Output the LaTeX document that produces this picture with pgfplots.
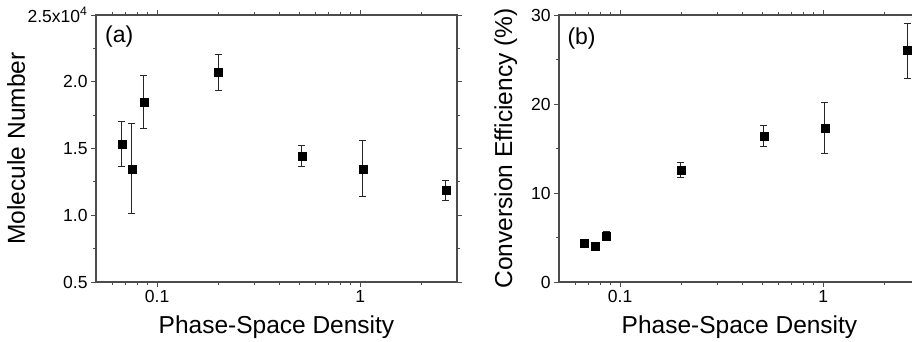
\documentclass[border=0pt]{standalone}
\usepackage{fontspec}
\setmainfont{Liberation Sans}
\usepackage{pgfplots}
\pgfplotsset{compat=1.18}

\definecolor{axisgray}{gray}{0.3}

\begin{document}
\begin{tikzpicture}[x=1pt,y=1pt]

% (a) molecule number
\begin{axis}[
  width=361pt, height=267pt, scale only axis,
  at={(96pt,60pt)}, anchor=south west,
  xmode=log, xmin=0.05, xmax=3,
  xtick={0.1,1}, xticklabels={0.1,1},
  minor xtick={0.06,0.07,0.08,0.09,0.2,0.3,0.4,0.5,0.6,0.7,0.8,0.9,2},
  ymin=0.5, ymax=2.5,
  ytick={0.5,1,1.5,2,2.5},
  yticklabels={0.5,1.0,1.5,2.0,2.5x10\textsuperscript{4}},
  minor ytick={0.75,1.25,1.75,2.25},
  tick align=outside,
  major tick length=5pt, minor tick length=3pt,
  every tick/.append style={axisgray, line width=0.9pt},
  axis line style={axisgray, line width=1.3pt},
  ticklabel style={font=\fontsize{17.5}{20}\selectfont},
  label style={font=\fontsize{24.5}{28}\selectfont},
  xlabel={Phase-Space Density},
  xlabel style={at={(axis description cs:0.5,0)}, anchor=base, yshift=-51pt, inner sep=0pt},
  ylabel={Molecule Number},
  ylabel style={at={(axis description cs:-0.197,0.5)}, anchor=base, inner sep=0pt},
  clip=false,
]
\addplot[black, only marks, mark=square*, mark size=4pt,
  error bars/.cd, y dir=both, y explicit,
  error bar style={black!85, line width=1pt},
  error mark options={rotate=90, mark size=3.5pt, black!85, line width=1pt}]
coordinates {
  (0.067,1.535) += (0,0.165) -= (0,0.17)
  (0.075,1.347) += (0,0.343) -= (0,0.337)
  (0.086,1.849) += (0,0.20) -= (0,0.20)
  (0.200,2.069) += (0,0.135) -= (0,0.132)
  (0.516,1.445) += (0,0.077) -= (0,0.078)
  (1.03,1.347) += (0,0.213) -= (0,0.207)
  (2.64,1.184) += (0,0.078) -= (0,0.072)
};
\node[font=\fontsize{23}{27}\selectfont, anchor=west, inner sep=0pt] at (axis description cs:0.025,0.92) {(a)};
\end{axis}

% (b) conversion efficiency
\begin{axis}[
  width=361pt, height=267pt, scale only axis,
  at={(559pt,60pt)}, anchor=south west,
  xmode=log, xmin=0.05, xmax=3,
  xtick={0.1,1}, xticklabels={0.1,1},
  minor xtick={0.06,0.07,0.08,0.09,0.2,0.3,0.4,0.5,0.6,0.7,0.8,0.9,2},
  ymin=0, ymax=30,
  ytick={0,10,20,30},
  minor ytick={5,15,25},
  tick align=outside,
  major tick length=5pt, minor tick length=3pt,
  every tick/.append style={axisgray, line width=0.9pt},
  axis line style={axisgray, line width=1.3pt},
  /pgf/number format/assume math mode=true,
  ticklabel style={font=\fontsize{17.5}{20}\selectfont},
  label style={font=\fontsize{24.5}{28}\selectfont},
  xlabel={Phase-Space Density},
  xlabel style={at={(axis description cs:0.5,0)}, anchor=base, yshift=-51pt, inner sep=0pt},
  ylabel={Conversion Efficiency (\%)},
  ylabel style={at={(axis description cs:-0.130,0.5)}, anchor=base, inner sep=0pt},
  clip=false,
]
\addplot[black, only marks, mark=square*, mark size=4pt,
  error bars/.cd, y dir=both, y explicit,
  error bar style={black!85, line width=1pt},
  error mark options={rotate=90, mark size=3.5pt, black!85, line width=1pt}]
coordinates {
  (0.0667,4.31) +- (0,0.35)
  (0.075,4.05) +- (0,0.2)
  (0.0857,5.17) +- (0,0.55)
  (0.199,12.58) += (0,0.82) -= (0,0.8)
  (0.51,16.4) += (0,1.2) -= (0,1.2)
  (1.02,17.3) += (0,2.9) -= (0,2.9)
  (2.59,26.0) += (0,3.1) -= (0,3.1)
};
\node[font=\fontsize{23}{27}\selectfont, anchor=west, inner sep=0pt] at (axis description cs:0.023,0.91) {(b)};
\end{axis}

\pgfresetboundingbox
\useasboundingbox (0,0) rectangle (912pt,342pt);
\end{tikzpicture}
\end{document}
